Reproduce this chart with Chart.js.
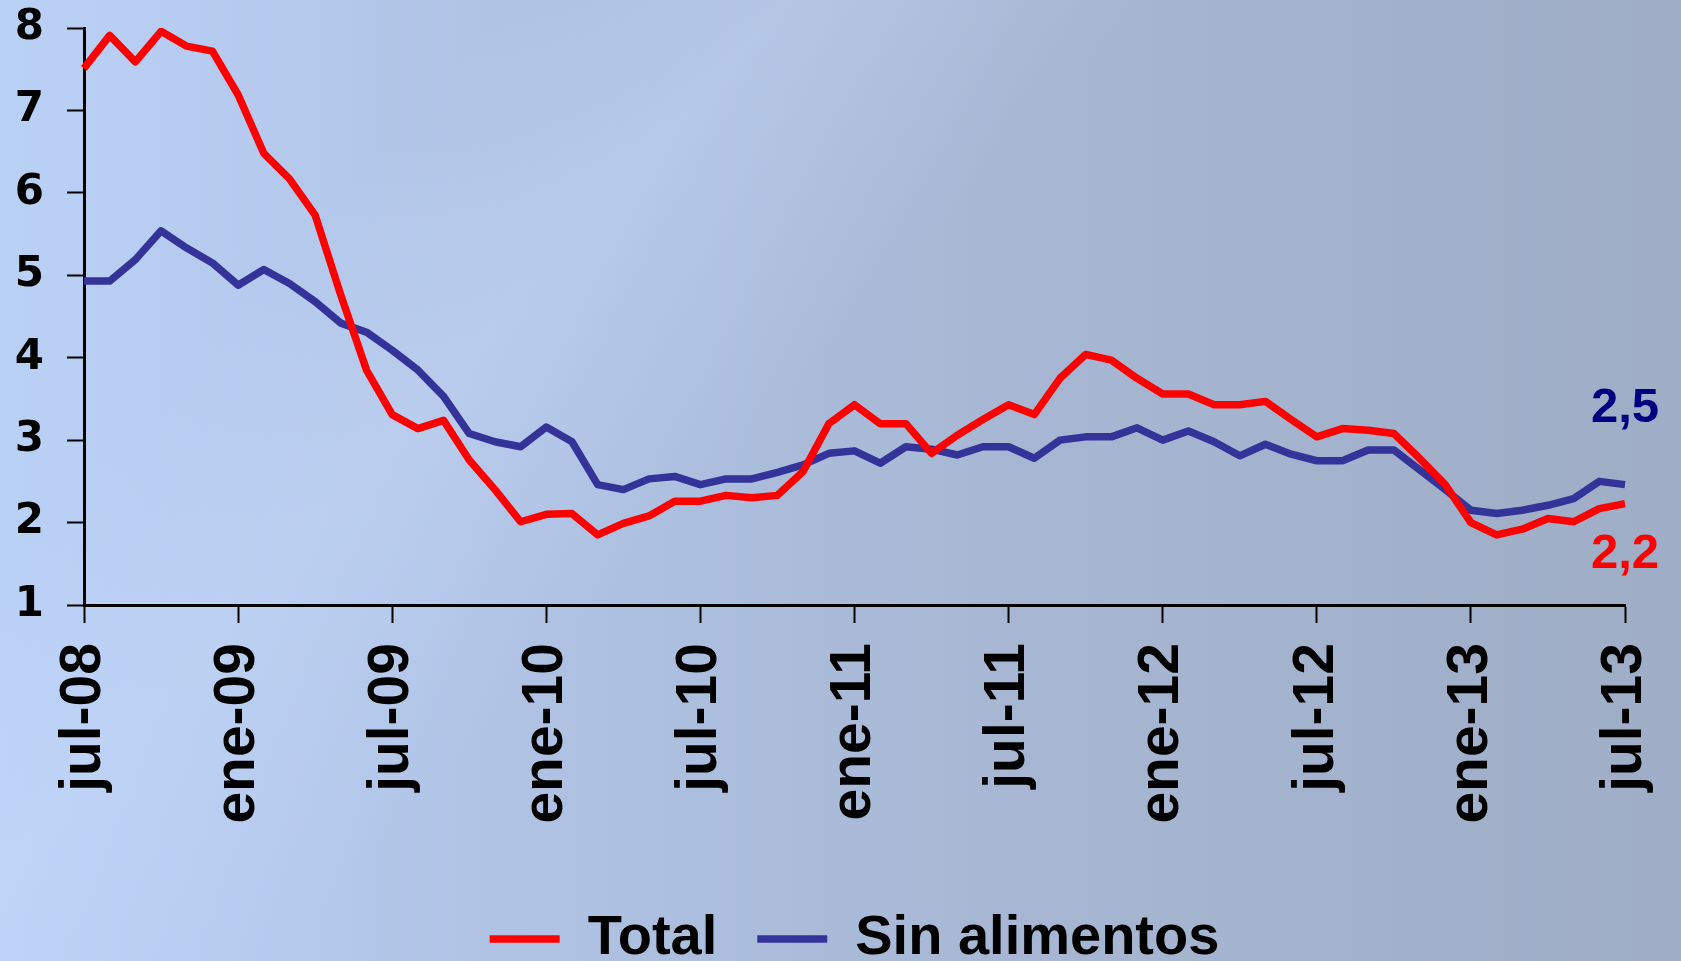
<!DOCTYPE html>
<html>
<head>
<meta charset="utf-8">
<script src="https://cdn.jsdelivr.net/npm/chart.js@4.4.0/dist/chart.umd.min.js"></script>
<style>
    html, body {
        margin: 0;
        padding: 0;
        overflow: hidden;
    }
    body {
        width: 1681px;
        height: 961px;
        background:
            linear-gradient(132deg, rgba(255,255,255,0) 20%, rgba(200,218,250,0.35) 31%, rgba(255,255,255,0) 45%),
            linear-gradient(to right, #bad1f6 0%, #b0c3e5 30%, #a7b7d3 60%, #9fadc6 100%);
    }
    #chart {
        display: block;
    }
</style>
</head>
<body>
<canvas id="chart" width="1681" height="961"></canvas>
<script>
// meses jul-08 .. jul-13
var months = [
    'jul-08', 'ago-08', 'sep-08', 'oct-08', 'nov-08', 'dic-08',
    'ene-09', 'feb-09', 'mar-09', 'abr-09', 'may-09', 'jun-09',
    'jul-09', 'ago-09', 'sep-09', 'oct-09', 'nov-09', 'dic-09',
    'ene-10', 'feb-10', 'mar-10', 'abr-10', 'may-10', 'jun-10',
    'jul-10', 'ago-10', 'sep-10', 'oct-10', 'nov-10', 'dic-10',
    'ene-11', 'feb-11', 'mar-11', 'abr-11', 'may-11', 'jun-11',
    'jul-11', 'ago-11', 'sep-11', 'oct-11', 'nov-11', 'dic-11',
    'ene-12', 'feb-12', 'mar-12', 'abr-12', 'may-12', 'jun-12',
    'jul-12', 'ago-12', 'sep-12', 'oct-12', 'nov-12', 'dic-12',
    'ene-13', 'feb-13', 'mar-13', 'abr-13', 'may-13', 'jun-13',
    'jul-13'
];

var total = [
    7.51, 7.91, 7.59, 7.96, 7.78, 7.72,
    7.19, 6.48, 6.17, 5.73, 4.76, 3.85,
    3.31, 3.14, 3.24, 2.76, 2.40, 2.01,
    2.10, 2.11, 1.85, 1.99, 2.08, 2.26,
    2.26, 2.33, 2.30, 2.33, 2.62, 3.20,
    3.43, 3.20, 3.20, 2.84, 3.06, 3.25,
    3.43, 3.31, 3.75, 4.04, 3.97, 3.75,
    3.56, 3.56, 3.43, 3.43, 3.47, 3.25,
    3.04, 3.14, 3.12, 3.08, 2.78, 2.46,
    2.00, 1.85, 1.92, 2.05, 2.01, 2.17,
    2.23
];

var sinAlimentos = [
    4.93, 4.93, 5.19, 5.54, 5.33, 5.15,
    4.88, 5.07, 4.90, 4.68, 4.42, 4.31,
    4.09, 3.85, 3.53, 3.08, 2.98, 2.92,
    3.16, 2.98, 2.46, 2.40, 2.53, 2.56,
    2.46, 2.53, 2.53, 2.61, 2.70, 2.84,
    2.87, 2.72, 2.92, 2.89, 2.82, 2.92,
    2.92, 2.78, 3.00, 3.04, 3.04, 3.15,
    3.00, 3.11, 2.98, 2.81, 2.95, 2.83,
    2.75, 2.75, 2.88, 2.88, 2.64, 2.40,
    2.15, 2.11, 2.15, 2.21, 2.29, 2.50,
    2.46
];

var seriesNames = ['Total', 'Sin alimentos'];
var seriesColors = ['#ff0000', '#333399'];
var endLabels = ['2,2', '2,5'];
var endLabelColors = ['#ff0000', '#000080'];
var yTicks = [1, 2, 3, 4, 5, 6, 7, 8];

// etiquetas finales junto al último punto de cada serie
var endLabelPlugin = {
    id: 'endLabels',
    afterDatasetsDraw: function(chart) {
        var ctx = chart.ctx;
        var offsets = [51, -76];
        ctx.save();
        ctx.font = 'bold 49px "Liberation Sans", Arial, sans-serif';
        ctx.textAlign = 'center';
        ctx.textBaseline = 'middle';
        chart.data.datasets.forEach(function(ds, i) {
            var meta = chart.getDatasetMeta(i);
            var pt = meta.data[meta.data.length - 1];
            ctx.fillStyle = endLabelColors[i];
            ctx.fillText(endLabels[i], pt.x, pt.y + offsets[i]);
        });
        ctx.restore();
    }
};

var ctx = document.getElementById('chart').getContext('2d');
var chart = new Chart(ctx, {
    type: 'line',
    data: {
        labels: months,
        datasets: [{
            label: seriesNames[0],
            data: total,
            borderColor: seriesColors[0],
            backgroundColor: seriesColors[0],
            borderWidth: 7.5,
            borderJoinStyle: 'round',
            pointRadius: 0,
            tension: 0
        }, {
            label: seriesNames[1],
            data: sinAlimentos,
            borderColor: seriesColors[1],
            backgroundColor: seriesColors[1],
            borderWidth: 7.5,
            borderJoinStyle: 'round',
            pointRadius: 0,
            tension: 0
        }]
    },
    options: {
        responsive: false,
        animation: false,
        layout: {
            padding: { left: 0, right: 56, top: 28, bottom: -16 }
        },
        plugins: {
            tooltip: { enabled: false },
            legend: {
                position: 'bottom',
                fullSize: false,
                labels: {
                    usePointStyle: true,
                    pointStyle: 'line',
                    pointStyleWidth: 70,
                    boxHeight: 8,
                    padding: 40,
                    color: '#000',
                    font: { family: '"Liberation Sans", Arial, sans-serif', size: 56, weight: 'bold' }
                }
            }
        },
        scales: {
            x: {
                offset: false,
                afterFit: function(scale) {
                    scale.height = 266;
                    scale.paddingLeft = 0;
                    scale.paddingRight = 0;
                },
                border: { display: true, color: '#000', width: 3 },
                grid: {
                    drawOnChartArea: false,
                    drawTicks: true,
                    tickLength: 18,
                    tickWidth: 2,
                    tickColor: function(c) { return c.index % 6 === 0 ? '#000' : 'rgba(0,0,0,0)'; }
                },
                ticks: {
                    autoSkip: false,
                    minRotation: 90,
                    maxRotation: 90,
                    padding: 20,
                    color: '#000',
                    font: { family: '"Liberation Sans", Arial, sans-serif', size: 57, weight: 'bold' },
                    callback: function(value, index) {
                        return index % 6 === 0 ? this.getLabelForValue(value) : '';
                    }
                }
            },
            y: {
                min: yTicks[0],
                max: yTicks[yTicks.length - 1],
                afterFit: function(scale) {
                    scale.width = 84;
                    scale.paddingTop = 0;
                    scale.paddingBottom = 0;
                },
                border: { display: true, color: '#000', width: 3 },
                grid: {
                    drawOnChartArea: false,
                    drawTicks: true,
                    tickLength: 17,
                    tickWidth: 2,
                    tickColor: '#000'
                },
                ticks: {
                    stepSize: 1,
                    padding: 23,
                    color: '#000',
                    font: { family: '"DejaVu Sans", sans-serif', size: 42, weight: 'bold' }
                }
            }
        }
    },
    plugins: [endLabelPlugin]
});
</script>
</body>
</html>
